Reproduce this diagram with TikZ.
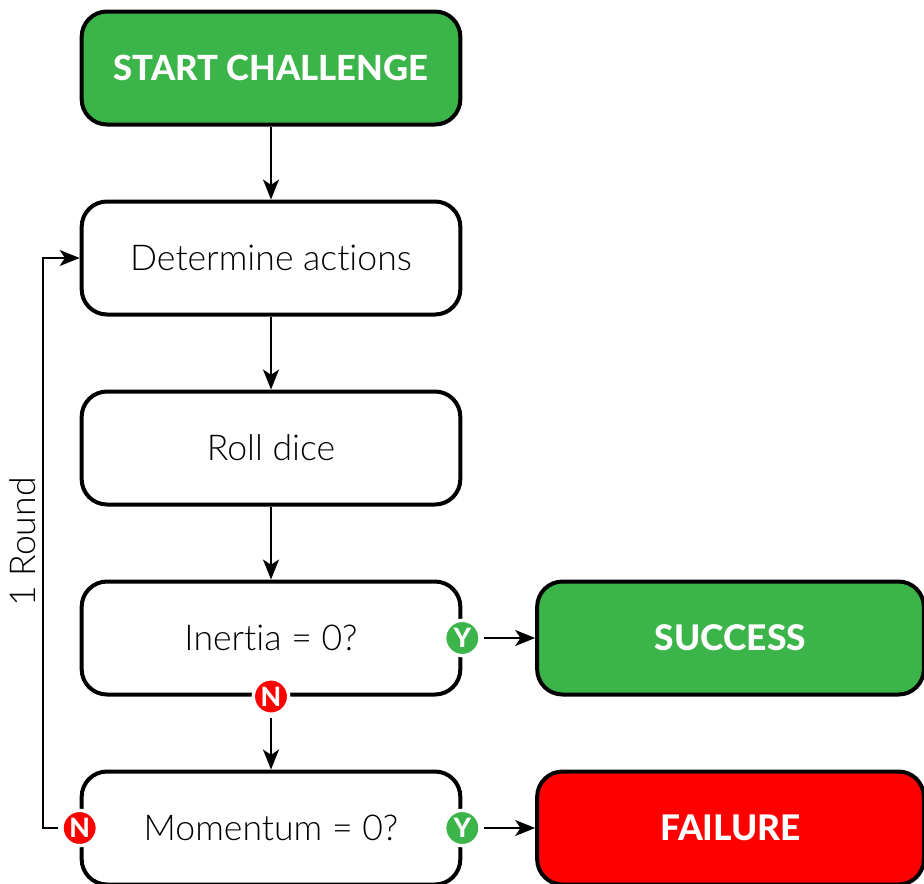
\documentclass[tikz,border=0pt]{standalone}
\usepackage{fontspec}
\setmainfont{Lato Light}[BoldFont=Lato Heavy,Ligatures=NoCommon]
\usetikzlibrary{calc}
\usetikzlibrary{arrows.meta}

\begin{document}
\begin{tikzpicture}[
        x=0.75pt,y=-0.75pt,
        stepbox/.style={draw,line width=3pt,rounded corners=19pt,minimum width=284pt,minimum height=84.75pt,inner sep=0pt,font=\fontsize{26.7}{30}\selectfont},
        endbox/.style={stepbox,minimum width=290pt,text=white,font=\fontsize{26.5}{30}\selectfont\bfseries},
        badge/.style={circle,draw=white,line width=2.5pt,minimum size=26.5pt,inner sep=0pt,outer sep=3pt,text=white,font=\fontsize{20}{22}\selectfont\bfseries},
        >={Stealth[length=15pt,width=12pt,inset=4pt]}
    ]
        \definecolor{okgreen}{HTML}{3BB54A}
        \useasboundingbox (0,0) rectangle (924,883);
        \node[stepbox,fill=okgreen,text=white,font=\fontsize{26}{30}\selectfont\bfseries] (start) at (271,68) {START CHALLENGE};
        \node[stepbox] (actions) at ($(start) + (0,190)$) {Determine actions};
        \node[stepbox] (dice) at ($(actions) + (0,190)$) {Roll dice};
        \node[stepbox] (inertia) at ($(dice) + (0,190)$) {Inertia = 0?};
        \node[stepbox] (momentum) at ($(inertia) + (0,190)$) {Momentum = 0?};
        \node[endbox,fill=okgreen] (success) at ($(inertia) + (459.5,0)$) {SUCCESS};
        \node[endbox,fill=red] (failure) at ($(momentum) + (459.5,0)$) {FAILURE};
        \node[badge,fill=okgreen] (inertiaY) at (inertia.east) {Y};
        \node[badge,fill=red] (inertiaN) at (inertia.south) {N};
        \node[badge,fill=okgreen] (momentumY) at (momentum.east) {Y};
        \node[badge,fill=red] (momentumN) at (momentum.west) {N};
        \coordinate (corner) at (43,258);
        \draw[->,line width=1.5pt] (start) -- (actions);
        \draw[->,line width=1.5pt] (actions) -- (dice);
        \draw[->,line width=1.5pt] (dice) -- (inertia);
        \draw[->,line width=1.5pt] (inertiaN) -- (momentum);
        \draw[->,line width=1.5pt] (inertiaY) -- (success);
        \draw[->,line width=1.5pt] (momentumY) -- (failure);
        \draw[->,line width=1.5pt] (momentumN) -| (corner) -- (actions);
        \node[rotate=90,font=\fontsize{26.7}{30}\selectfont] (round) at (23,542) {1 Round};
    \end{tikzpicture}
\end{document}
